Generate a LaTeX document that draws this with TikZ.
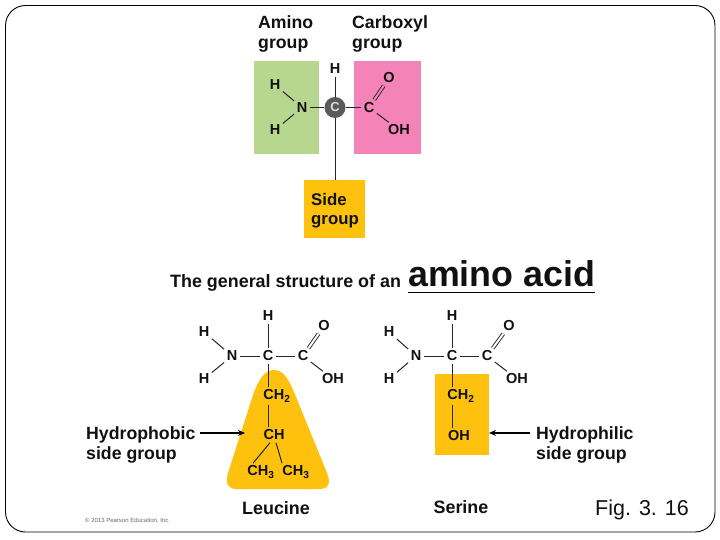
\documentclass[tikz,border=0pt]{standalone}
\usepackage{fontspec}
\setmainfont{Liberation Sans}
\usetikzlibrary{arrows.meta}
\definecolor{amgreen}{HTML}{B7D78F}
\definecolor{cxpink}{HTML}{F483B8}
\definecolor{sideyel}{HTML}{FEC10E}
\definecolor{atomc}{HTML}{5A5A5A}
\definecolor{inkb}{HTML}{111111}
\tikzset{
  lbl/.style={font=\fontsize{17.7}{20}\selectfont\bfseries, align=left, inner sep=0pt, text=inkb},
  lblsm/.style={font=\fontsize{16.8}{19}\selectfont\bfseries, align=left, inner sep=0pt, text=inkb},
  atom/.style={font=\fontsize{14.5}{16}\selectfont\bfseries, inner sep=2.4pt, text=inkb},
  bond/.style={draw=black!85, line width=1pt},
  dbl/.style={draw=black!85, line width=0.9pt, double distance=2pt, double=#1},
  panel/.style={draw=none, inner sep=0pt, anchor=north west},
  pointer/.style={draw=black, line width=1.2pt, -{Stealth[length=7pt,width=6pt]}}
}
\begin{document}
\begin{tikzpicture}[x=1pt,y=-1pt]
\useasboundingbox (0,0) rectangle (720,540);
\fill[white] (0,0) rectangle (720,540);
\draw[black, line width=0.9pt, rounded corners=20pt] (5.5,5.5) rectangle (715,532);
% top panels
\node[panel, fill=amgreen, minimum width=65pt, minimum height=93pt] (pg) at (253.5,60.5) {};
\node[panel, fill=cxpink, minimum width=67pt, minimum height=93pt] (pp) at (353.5,60.5) {};
\node[panel, fill=sideyel, minimum width=61pt, minimum height=58pt] (ps) at (304,180) {};
\node[lbl, anchor=north west] (t1) at (258,15) {Amino\\group};
\node[lbl, anchor=north west] (t2) at (352,15) {Carboxyl\\group};
\node[lblsm, anchor=north west] (t3) at (311,193) {Side\\group};
% top molecule
\node[atom] (a1) at (335,69) {H};
\node[atom] (a2) at (275,85) {H};
\node[atom] (a3) at (275,130) {H};
\node[atom] (a4) at (302,107.5) {N};
\node[atom] (a5) at (369,107.5) {C};
\node[atom] (a6) at (389,78) {O};
\node[atom] (a7) at (399,130) {OH};
\node[circle, fill=atomc, minimum size=21pt, inner sep=0pt, font=\fontsize{13}{14}\selectfont\bfseries, text=white!85!black] (a0) at (335,107.5) {C};
\draw[bond] (a1) -- (a0);
\draw[bond] (a2) -- (a4);
\draw[bond] (a3) -- (a4);
\draw[bond] (a4) -- (a0);
\draw[bond] (a0) -- (a5);
\draw[bond] (a0) -- (ps.north -| a0);
\draw[dbl=cxpink] (a5) -- (a6);
\draw[bond] (a5) -- (a7);
% heading
\node[font=\fontsize{17.9}{20}\selectfont\bfseries, anchor=base west, inner sep=0pt, text=inkb] (h1) at (170,287) {The general structure of an};
\node[font=\fontsize{35.8}{40}\selectfont\bfseries, anchor=base west, inner sep=0pt, text=inkb] (h2) at (408,286) {amino acid};
\draw[black, line width=1pt] (h2.base west)++(0,6) -- ++(187,0);
% leucine
\path[fill=sideyel, draw=none] (274,370) .. controls (264,370) and (259,380) .. (254,392) -- (228,473) .. controls (225,484) and (228,489) .. (237,489) -- (319,489) .. controls (329,489) and (331,483) .. (327,473) -- (294,392) .. controls (288,378) and (283,370) .. (274,370) -- cycle;
\node[atom] (l1) at (268,316) {H};
\node[atom] (l2) at (204,332) {H};
\node[atom] (l3) at (204,379) {H};
\node[atom] (l4) at (232,356) {N};
\node[atom] (l0) at (268,356) {C};
\node[atom] (l5) at (303,356) {C};
\node[atom] (l6) at (324,326) {O};
\node[atom] (l7) at (333,379) {OH};
\node[atom] (l8) at (277,396) {CH\textsubscript{2}};
\node[atom] (l9) at (274,435) {CH};
\node[atom] (l10) at (261,472) {CH\textsubscript{3}};
\node[atom] (l11) at (296,472) {CH\textsubscript{3}};
\draw[bond] (l1) -- (l0);
\draw[bond] (l2) -- (l4);
\draw[bond] (l3) -- (l4);
\draw[bond] (l4) -- (l0);
\draw[bond] (l0) -- (l5);
\draw[dbl=white] (l5) -- (l6);
\draw[bond] (l5) -- (l7);
\draw[bond] (l0) -- (l0 |- l8.north);
\draw[bond] (l0 |- l8.south) -- (l0 |- l9.north);
\draw[bond] ([xshift=-4pt]l9.south) -- ([xshift=-8pt]l10.north);
\draw[bond] ([xshift=2pt]l9.south) -- ([xshift=-14pt]l11.north);
% serine
\node[panel, fill=sideyel, minimum width=54pt, minimum height=81pt] (ss) at (435,374) {};
\node[atom] (s1) at (452,316) {H};
\node[atom] (s2) at (389,332) {H};
\node[atom] (s3) at (389,379) {H};
\node[atom] (s4) at (416,356) {N};
\node[atom] (s0) at (452,356) {C};
\node[atom] (s5) at (487,356) {C};
\node[atom] (s6) at (509,326) {O};
\node[atom] (s7) at (517,379) {OH};
\node[atom] (s8) at (461,396) {CH\textsubscript{2}};
\node[atom] (s9) at (459,436) {OH};
\draw[bond] (s1) -- (s0);
\draw[bond] (s2) -- (s4);
\draw[bond] (s3) -- (s4);
\draw[bond] (s4) -- (s0);
\draw[bond] (s0) -- (s5);
\draw[dbl=white] (s5) -- (s6);
\draw[bond] (s5) -- (s7);
\draw[bond] (s0) -- (s0 |- s8.north);
\draw[bond] (s0 |- s8.south) -- (s0 |- s9.north);
% side labels
\node[lbl, anchor=north west] (hp) at (86,426) {Hydrophobic\\side group};
\node[lbl, anchor=north west] (hl) at (536,426) {Hydrophilic\\side group};
\coordinate (hpt) at (245,433);
\coordinate (hlt) at (489,433);
\draw[pointer] (hp.east |- hpt) ++(4,0) -- (hpt);
\draw[pointer] (hl.west |- hlt) ++(-6,0) -- (hlt);
% bottom labels
\node[font=\fontsize{17.9}{20}\selectfont\bfseries, inner sep=0pt, text=inkb] (n1) at (276,508) {Leucine};
\node[font=\fontsize{17.9}{20}\selectfont\bfseries, inner sep=0pt, text=inkb] (n2) at (461,507) {Serine};
\node[font=\fontsize{21.5}{25}\selectfont, anchor=base west, inner sep=0pt, text=inkb] (fg) at (595,515) {Fig. 3. 16};
\node[font=\fontsize{6}{7}\selectfont, anchor=west, inner sep=0pt, text=black!60] (cp) at (85,521) {© 2013 Pearson Education, Inc.};
\end{tikzpicture}
\end{document}
